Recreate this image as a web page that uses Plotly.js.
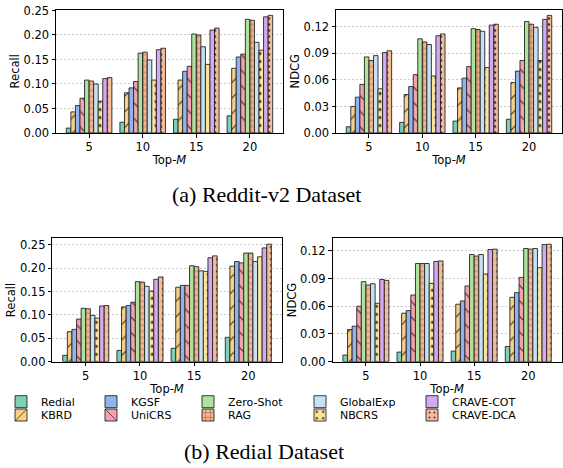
<!DOCTYPE html>
<html>
<head>
<meta charset="utf-8">
<script src="https://cdn.plot.ly/plotly-3.0.1.min.js"></script>
<style>html,body{margin:0;padding:0;background:#fff;} #chart{width:563px;height:468px;}</style>
</head>
<body>
<div id="chart"></div>
<script>
const categories = ['5', '10', '15', '20'];
const methods = ['Redial', 'KBRD', 'KGSF', 'UniCRS', 'Zero-Shot', 'RAG', 'GlobalExp', 'NBCRS', 'CRAVE-COT', 'CRAVE-DCA'];

// Reddit-v2 Recall (rows follow methods, columns follow categories)
const redditRecall = [
  [0.010, 0.022, 0.028, 0.035],
  [0.043, 0.082, 0.108, 0.132],
  [0.056, 0.092, 0.126, 0.155],
  [0.071, 0.105, 0.136, 0.161],
  [0.108, 0.163, 0.202, 0.232],
  [0.106, 0.165, 0.200, 0.230],
  [0.100, 0.149, 0.176, 0.185],
  [0.065, 0.108, 0.140, 0.169],
  [0.111, 0.170, 0.210, 0.237],
  [0.113, 0.173, 0.214, 0.240]
];
// Reddit-v2 NDCG
const redditNDCG = [
  [0.007, 0.012, 0.0135, 0.0155],
  [0.030, 0.0435, 0.051, 0.057],
  [0.0405, 0.0525, 0.062, 0.070],
  [0.055, 0.066, 0.075, 0.082],
  [0.086, 0.1065, 0.118, 0.126],
  [0.082, 0.103, 0.117, 0.123],
  [0.0875, 0.100, 0.115, 0.1195],
  [0.050, 0.0645, 0.074, 0.082],
  [0.091, 0.110, 0.122, 0.1285],
  [0.093, 0.112, 0.123, 0.133]
];
// Redial Recall
const redialRecall = [
  [0.0136, 0.024, 0.0287, 0.052],
  [0.064, 0.117, 0.159, 0.204],
  [0.069, 0.120, 0.163, 0.214],
  [0.091, 0.127, 0.163, 0.211],
  [0.114, 0.171, 0.205, 0.232],
  [0.113, 0.170, 0.203, 0.232],
  [0.099, 0.161, 0.194, 0.214],
  [0.093, 0.151, 0.193, 0.224],
  [0.119, 0.176, 0.222, 0.243],
  [0.120, 0.181, 0.226, 0.251]
];
// Redial NDCG
const redialNDCG = [
  [0.0072, 0.0104, 0.0115, 0.0165],
  [0.0348, 0.0525, 0.0622, 0.0697],
  [0.0384, 0.0553, 0.0658, 0.0747],
  [0.060, 0.0722, 0.082, 0.0913],
  [0.0866, 0.1063, 0.116, 0.1225],
  [0.083, 0.1063, 0.1143, 0.1218],
  [0.0844, 0.1063, 0.116, 0.1225],
  [0.0632, 0.0848, 0.0949, 0.1017],
  [0.089, 0.1085, 0.1214, 0.1268],
  [0.088, 0.109, 0.1218, 0.1272]
];

const colors = ['#7fcfb8', '#f7d088', '#90b4ec', '#f4a2ad', '#afe29c', '#f5b48c', '#c4e2f2', '#fae59c', '#d5a8f2', '#f6bd9a'];
const patterns = ['', '/', '', '\\', '', '+', '', '.', '', '.'];
const patternSizes = [8, 11, 8, 11, 8, 6, 8, 8, 8, 6];
const patternSolid = [0, 0.1, 0, 0.1, 0, 0.12, 0, 0.12, 0, 0.15];

const panels = [
  {data: redditRecall, xa: 'x', ya: 'y'},
  {data: redditNDCG, xa: 'x2', ya: 'y2'},
  {data: redialRecall, xa: 'x3', ya: 'y3'},
  {data: redialNDCG, xa: 'x4', ya: 'y4'}
];

const traces = [];
panels.forEach((p, pi) => {
  methods.forEach((m, i) => {
    const legendKey = i === 0 ? 'legend' : 'legend' + (i + 1);
    const marker = {
      color: colors[i],
      line: {color: '#262626', width: 0.9}
    };
    if (patterns[i]) {
      marker.pattern = {shape: patterns[i], fillmode: 'overlay', fgcolor: '#222222', bgcolor: colors[i],
                        size: patternSizes[i], solidity: patternSolid[i], fgopacity: 0.9};
    }
    traces.push({
      type: 'bar',
      name: m,
      x: categories,
      y: p.data[i],
      xaxis: p.xa,
      yaxis: p.ya,
      legend: legendKey,
      showlegend: pi === 0,
      marker: marker,
      hoverinfo: 'name+y'
    });
  });
});

const font = {family: 'DejaVu Sans', size: 11.5, color: '#000'};
function xaxisDef(domain, anchor) {
  return {
    domain: domain, anchor: anchor, type: 'category',
    range: [-0.6175, 3.6175],
    showline: true, linecolor: '#000', linewidth: 1, mirror: true,
    ticks: 'outside', ticklen: 3.5, tickcolor: '#000', tickwidth: 1,
    showgrid: false, zeroline: false,
    tickfont: font,
    title: {text: 'Top-<i>M</i>', font: {family: 'DejaVu Sans', size: 11.5, color: '#000'}, standoff: 2}
  };
}
function yaxisDef(domain, anchor, data, title, dtick) {
  const mx = Math.max(...data.flat()) * 1.05;
  return {
    domain: domain, anchor: anchor,
    range: [0, mx],
    dtick: dtick, tick0: 0, tickformat: '.2f',
    showline: true, linecolor: '#000', linewidth: 1, mirror: true,
    ticks: 'outside', ticklen: 3.5, tickcolor: '#000', tickwidth: 1,
    showgrid: true, gridcolor: '#bcbcbc', gridwidth: 0.8, griddash: '2px,2px',
    zeroline: false,
    tickfont: font,
    title: {text: title, font: {family: 'DejaVu Sans', size: 11.5, color: '#000'}, standoff: 1}
  };
}

const W = 563, H = 468;
const layout = {
  width: W, height: H,
  margin: {l: 0, r: 0, t: 0, b: 0},
  paper_bgcolor: '#fff', plot_bgcolor: '#fff',
  barmode: 'group', bargap: 0.15, bargroupgap: 0,
  xaxis: xaxisDef([56 / W, 283 / W], 'y'),
  xaxis2: xaxisDef([336 / W, 562 / W], 'y2'),
  xaxis3: xaxisDef([52.3 / W, 281.8 / W], 'y3'),
  xaxis4: xaxisDef([332.5 / W, 561.7 / W], 'y4'),
  yaxis: yaxisDef([1 - 133 / H, 1 - 9.5 / H], 'x', redditRecall, 'Recall', 0.05),
  yaxis2: yaxisDef([1 - 133 / H, 1 - 9.5 / H], 'x2', redditNDCG, 'NDCG', 0.03),
  yaxis3: yaxisDef([1 - 361.7 / H, 1 - 238.3 / H], 'x3', redialRecall, 'Recall', 0.05),
  yaxis4: yaxisDef([1 - 361.7 / H, 1 - 238.3 / H], 'x4', redialNDCG, 'NDCG', 0.03),
  annotations: [
    {text: '(a) Reddit-v2 Dataset', xref: 'paper', yref: 'paper', x: 266.7 / W, y: 1 - 194 / H,
     xanchor: 'center', yanchor: 'middle', showarrow: false,
     font: {family: 'Liberation Serif', size: 22, color: '#000'}},
    {text: '(b) Redial Dataset', xref: 'paper', yref: 'paper', x: 264 / W, y: 1 - 451 / H,
     xanchor: 'center', yanchor: 'middle', showarrow: false,
     font: {family: 'Liberation Serif', size: 22, color: '#000'}}
  ]
};

const legendColX = [1, 91, 188, 300, 412];
const legendRowY = [401.7, 415];
methods.forEach((m, i) => {
  const key = i === 0 ? 'legend' : 'legend' + (i + 1);
  const c = Math.floor(i / 2), r = i % 2;
  layout[key] = {
    x: legendColX[c] / W, y: 1 - legendRowY[r] / H,
    xanchor: 'left', yanchor: 'middle',
    bgcolor: 'rgba(0,0,0,0)', borderwidth: 0,
    font: {family: 'DejaVu Sans', size: 11, color: '#000'},
    itemclick: false, itemdoubleclick: false
  };
});

Plotly.newPlot('chart', traces, layout, {displayModeBar: false, staticPlot: true});
</script>
</body>
</html>
